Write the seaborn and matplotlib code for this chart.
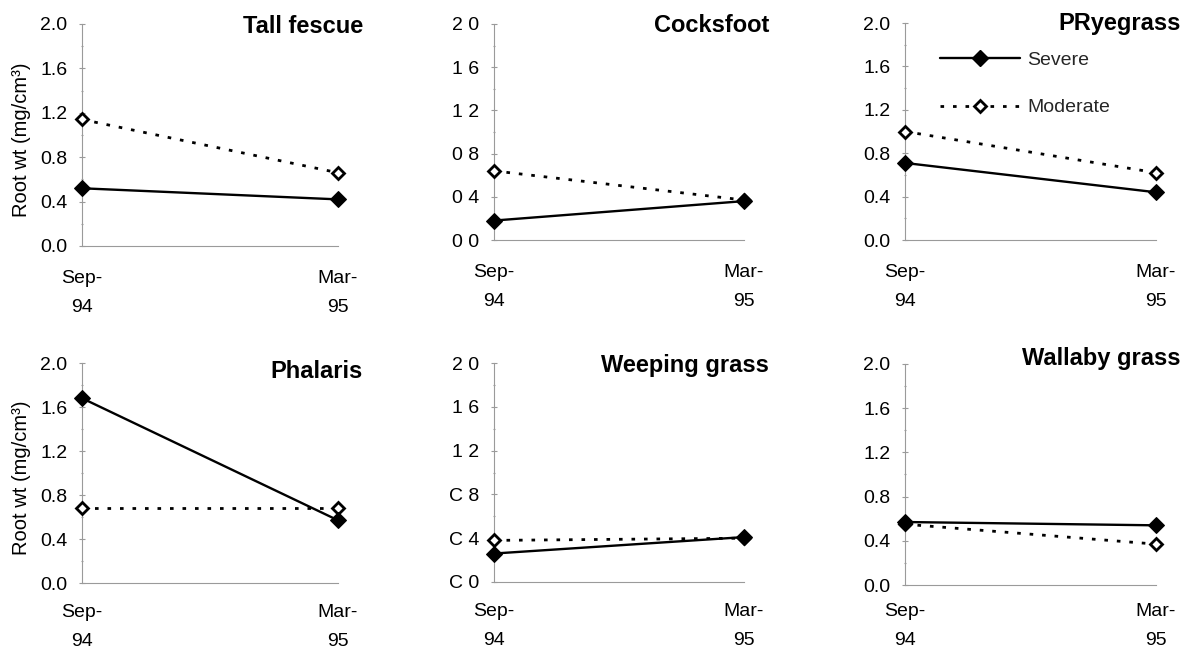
import numpy as np
import pandas as pd
import matplotlib
matplotlib.use('Agg')
import matplotlib.pyplot as plt
import seaborn as sns
from matplotlib.ticker import FixedLocator, MultipleLocator
from matplotlib.lines import Line2D

# ---------------- data ----------------
species = ['Tall fescue', 'Cocksfoot', 'PRyegrass', 'Phalaris', 'Weeping grass', 'Wallaby grass']
dates = ['Sep-\n94', 'Mar-\n95']
severe = [[0.52, 0.42], [0.18, 0.36], [0.71, 0.44], [1.68, 0.57], [0.26, 0.41], [0.57, 0.54]]
moderate = [[1.14, 0.66], [0.64, 0.37], [1.00, 0.62], [0.68, 0.68], [0.38, 0.40], [0.55, 0.37]]
ytick_values = [0.0, 0.4, 0.8, 1.2, 1.6, 2.0]
ytick_labels_std = ['0.0', '0.4', '0.8', '1.2', '1.6', '2.0']
ytick_labels_cocksfoot = ['0 0', '0 4', '0 8', '1 2', '1 6', '2 0']
ytick_labels_weeping = ['C 0', 'C 4', 'C 8', '1 2', '1 6', '2 0']
ytick_labels = [ytick_labels_std, ytick_labels_cocksfoot, ytick_labels_std,
                ytick_labels_std, ytick_labels_weeping, ytick_labels_std]
ylabel = 'Root wt (mg/cm³)'

rows = []
for sp, sv, mv in zip(species, severe, moderate):
    for i in range(len(dates)):
        rows.append(dict(species=sp, t=i, treatment='Severe', value=sv[i]))
        rows.append(dict(species=sp, t=i, treatment='Moderate', value=mv[i]))
df = pd.DataFrame(rows)

# ---------------- style ----------------
sns.set_theme(style='white')
plt.rcParams['font.family'] = ['Liberation Sans', 'DejaVu Sans']
spine_col = '#9a9a9a'
fs_tick = 14

fig = plt.figure(figsize=(12, 6.53), dpi=100)
W, H = 1200, 653
# axes boxes in pixels: (left, top, right, bottom)
boxes = [(82, 24, 338, 246), (494, 24, 744, 240), (905, 23, 1156, 240),
         (82, 363, 338, 583), (494, 363, 744, 582), (905, 364, 1156, 585)]
title_drop = [9, 8, 7, 15, 9, 1]
xpad = [17, 17, 17, 15, 15, 13]

sev_kw = dict(color='black', lw=1.7, marker='D', markersize=8.5,
              markerfacecolor='black', markeredgecolor='black')
mod_kw = dict(color='black', lw=2.0, linestyle=(0, (1.3, 3.2)), marker='D',
              markersize=6.5, markerfacecolor='white', markeredgecolor='black',
              markeredgewidth=2.0)

axes = []
for k, (l, t, r, b) in enumerate(boxes):
    ax = fig.add_axes([l / W, 1 - b / H, (r - l) / W, (b - t) / H])
    axes.append(ax)
    sub = df[df.species == species[k]]
    sns.lineplot(data=sub[sub.treatment == 'Severe'], x='t', y='value', ax=ax,
                 clip_on=False, legend=False, zorder=4, **sev_kw)
    sns.lineplot(data=sub[sub.treatment == 'Moderate'], x='t', y='value', ax=ax,
                 clip_on=False, legend=False, zorder=3, **mod_kw)
    ax.set_xlim(0, 1)
    ax.set_ylim(0, 2.0)
    ax.set_xticks([0, 1])
    ax.set_xticklabels(dates, fontsize=fs_tick, linespacing=1.95)
    ax.yaxis.set_major_locator(FixedLocator(ytick_values))
    ax.set_yticklabels(ytick_labels[k], fontsize=fs_tick)
    ax.yaxis.set_minor_locator(MultipleLocator(0.2))
    ax.tick_params(axis='x', length=0, pad=xpad[k], colors='black')
    ax.tick_params(axis='y', which='major', direction='inout', length=5, width=0.8,
                   color=spine_col, pad=8, labelcolor='black', left=True)
    ax.tick_params(axis='y', which='minor', direction='inout', length=2, width=0.8,
                   color=spine_col, left=True)
    for s in ['top', 'right']:
        ax.spines[s].set_visible(False)
    for s in ['left', 'bottom']:
        ax.spines[s].set_color(spine_col)
        ax.spines[s].set_linewidth(0.8)
    ax.set_xlabel('')
    if k % 3 == 0:
        ax.set_ylabel(ylabel, fontsize=14.5, color='black')
        ax.yaxis.set_label_coords(-0.2, 0.48)
    else:
        ax.set_ylabel('')
    ax.annotate(species[k], xy=(1, 1), xycoords='axes fraction',
                xytext=(25, -title_drop[k]), textcoords='offset pixels',
                ha='right', va='baseline', fontsize=17, fontweight='bold', color='black')

# legend in the PRyegrass panel
handles = [Line2D([], [], **sev_kw), Line2D([], [], **mod_kw)]
axes[2].legend(handles, ['Severe', 'Moderate'], loc='upper left',
               bbox_to_anchor=(940 / W, 1 - 51 / H), bbox_transform=fig.transFigure,
               frameon=False, fontsize=fs_tick, handlelength=4.1, handletextpad=0.4,
               labelspacing=1.55, borderpad=0, borderaxespad=0, numpoints=1)

fig.savefig('out.png', dpi=100, facecolor='white')
